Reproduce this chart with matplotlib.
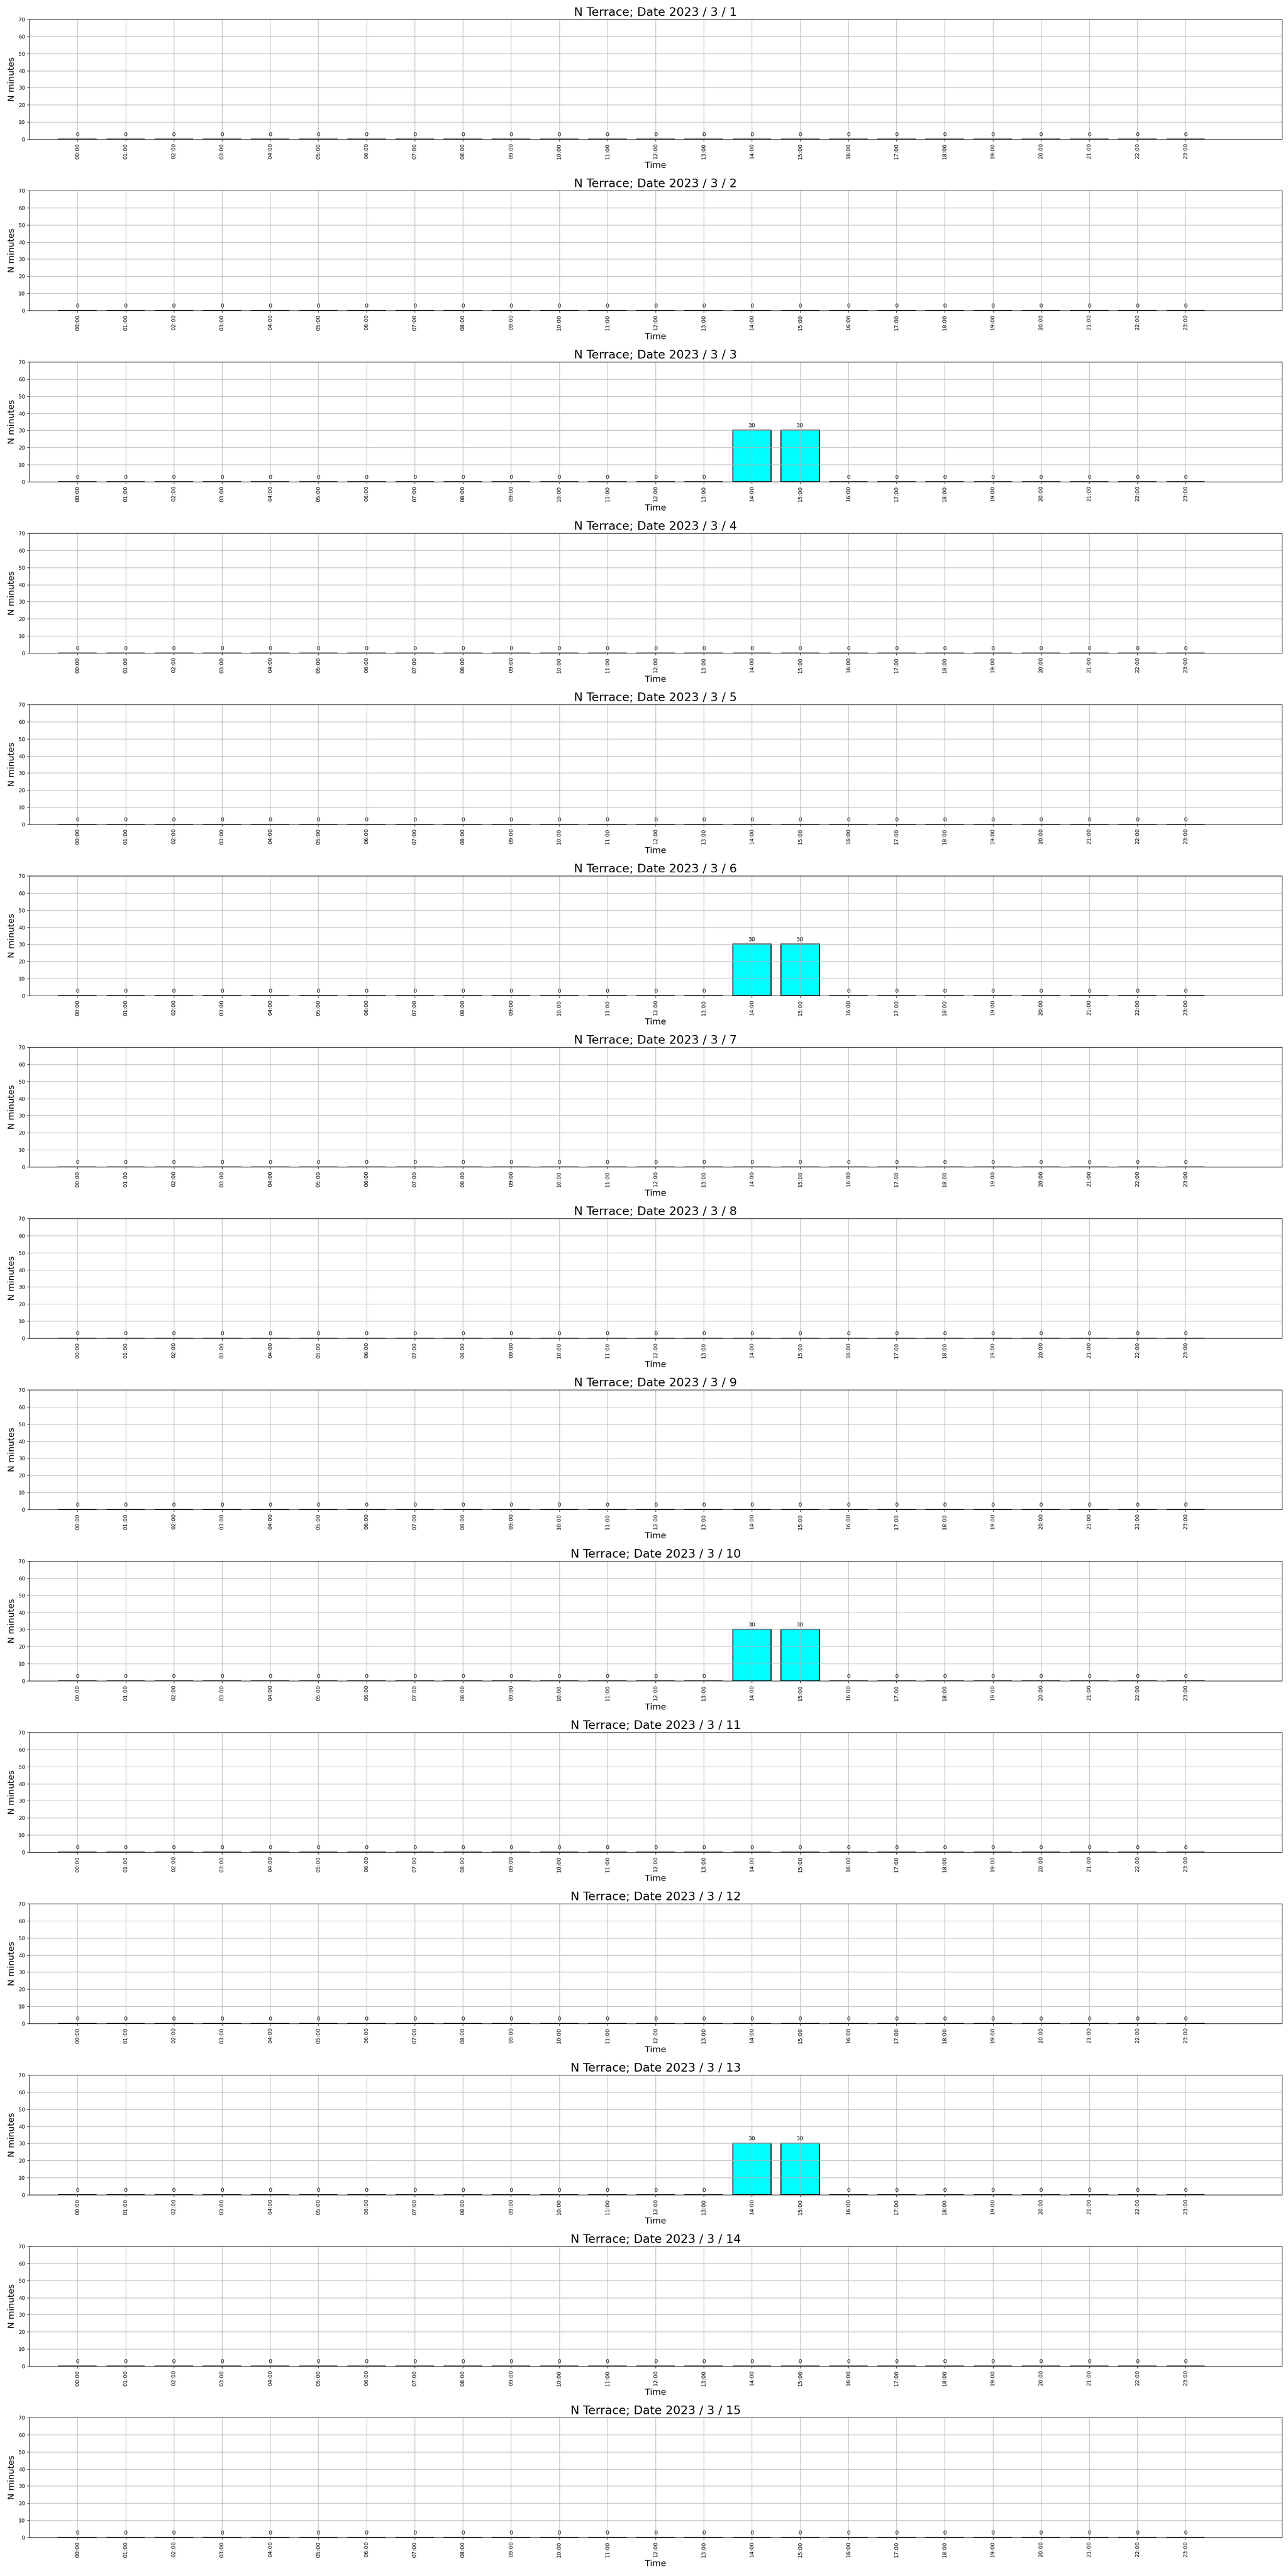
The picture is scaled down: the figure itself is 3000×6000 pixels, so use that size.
from matplotlib import pyplot as plt
import numpy as np

hours = ['%02d:00' % h for h in range(24)]
days = list(range(1, 16))

# minutes per hour for each day of March 2023
day01 = [0,0,0,0,0,0,0,0,0,0,0,0,0,0,0,0,0,0,0,0,0,0,0,0]
day02 = [0,0,0,0,0,0,0,0,0,0,0,0,0,0,0,0,0,0,0,0,0,0,0,0]
day03 = [0,0,0,0,0,0,0,0,0,0,0,0,0,0,30,30,0,0,0,0,0,0,0,0]
day04 = [0,0,0,0,0,0,0,0,0,0,0,0,0,0,0,0,0,0,0,0,0,0,0,0]
day05 = [0,0,0,0,0,0,0,0,0,0,0,0,0,0,0,0,0,0,0,0,0,0,0,0]
day06 = [0,0,0,0,0,0,0,0,0,0,0,0,0,0,30,30,0,0,0,0,0,0,0,0]
day07 = [0,0,0,0,0,0,0,0,0,0,0,0,0,0,0,0,0,0,0,0,0,0,0,0]
day08 = [0,0,0,0,0,0,0,0,0,0,0,0,0,0,0,0,0,0,0,0,0,0,0,0]
day09 = [0,0,0,0,0,0,0,0,0,0,0,0,0,0,0,0,0,0,0,0,0,0,0,0]
day10 = [0,0,0,0,0,0,0,0,0,0,0,0,0,0,30,30,0,0,0,0,0,0,0,0]
day11 = [0,0,0,0,0,0,0,0,0,0,0,0,0,0,0,0,0,0,0,0,0,0,0,0]
day12 = [0,0,0,0,0,0,0,0,0,0,0,0,0,0,0,0,0,0,0,0,0,0,0,0]
day13 = [0,0,0,0,0,0,0,0,0,0,0,0,0,0,30,30,0,0,0,0,0,0,0,0]
day14 = [0,0,0,0,0,0,0,0,0,0,0,0,0,0,0,0,0,0,0,0,0,0,0,0]
day15 = [0,0,0,0,0,0,0,0,0,0,0,0,0,0,0,0,0,0,0,0,0,0,0,0]

L_minutes = [day01, day02, day03, day04, day05, day06, day07, day08,
             day09, day10, day11, day12, day13, day14, day15]

fig, axes = plt.subplots(15, 1, figsize=(30, 60), dpi=100)
fig.subplots_adjust(left=0.0227, right=0.9953, top=0.9925, bottom=0.015, hspace=0.43)

x = np.arange(len(hours))
for ax, d, vals in zip(axes, days, L_minutes):
    bars = ax.bar(x, vals, width=0.8, color='cyan', edgecolor='black', linewidth=1.5)
    for b, v in zip(bars, vals):
        ax.annotate(str(v), (b.get_x() + b.get_width() / 2, v),
                    xytext=(0, 3), textcoords='offset points',
                    ha='center', va='bottom', fontsize=9.5)
    ax.set_xticks(x)
    ax.set_xticklabels(hours, rotation=90, fontsize=9.2)
    ax.set_xlim(-1, 25)
    ax.set_ylim(0, 70)
    ax.set_yticks(np.arange(0, 71, 10))
    ax.tick_params(axis='y', labelsize=8.8)
    ax.grid(True)
    ax.set_title('N Terrace; Date 2023 / 3 / %d' % d, fontsize=19.7)
    ax.set_xlabel('Time', fontsize=14.6)
    ax.set_ylabel('N minutes', fontsize=14.6)

plt.savefig('out.png')
